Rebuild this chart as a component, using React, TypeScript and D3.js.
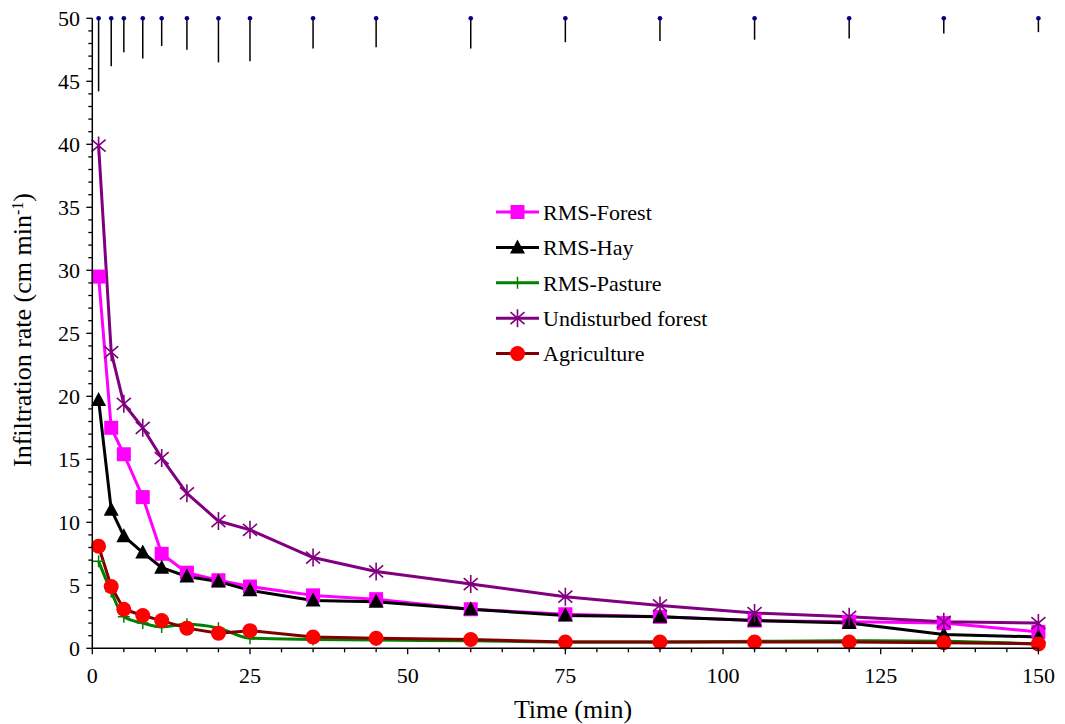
import React from 'react';
import * as d3 from 'd3';

// time of each reading (min)
const times = [1, 3, 5, 8, 11, 15, 20, 25, 35, 45, 60, 75, 90, 105, 120, 135, 150];

const rmsForest = [29.5, 17.5, 15.4, 12.0, 7.5, 6.0, 5.4, 4.9, 4.2, 3.9, 3.1, 2.7, 2.5, 2.2, 2.1, 2.0, 1.3];
const rmsHay = [19.7, 11.0, 8.9, 7.6, 6.4, 5.7, 5.3, 4.6, 3.8, 3.7, 3.1, 2.6, 2.5, 2.2, 2.0, 1.1, 0.9];
const rmsPasture = [6.9, 4.5, 2.5, 2.0, 1.7, 1.9, 1.6, 0.8, 0.7, 0.65, 0.6, 0.5, 0.5, 0.55, 0.6, 0.55, 0.35];
const undisturbed = [39.9, 23.5, 19.4, 17.5, 15.1, 12.3, 10.1, 9.4, 7.2, 6.1, 5.1, 4.1, 3.4, 2.8, 2.5, 2.1, 2.0];
const agriculture = [8.1, 4.9, 3.1, 2.6, 2.2, 1.6, 1.2, 1.4, 0.9, 0.8, 0.7, 0.5, 0.5, 0.5, 0.5, 0.45, 0.35];

// bars hanging from the top of the plot (lower end value)
const topBarLow = [44.2, 46.2, 47.3, 46.8, 47.8, 47.5, 46.5, 46.6, 47.6, 47.7, 47.6, 48.1, 48.2, 48.3, 48.4, 48.8, 48.9];

const xTicks = [0, 25, 50, 75, 100, 125, 150];
const yTicks = [0, 5, 10, 15, 20, 25, 30, 35, 40, 45, 50];

type Marker = 'square' | 'triangle' | 'plus' | 'star' | 'circle';

const series: { name: string; values: number[]; line: string; fill: string; marker: Marker; smooth?: boolean }[] = [
  { name: 'RMS-Forest', values: rmsForest, line: '#ff00ff', fill: '#ff00ff', marker: 'square' },
  { name: 'RMS-Hay', values: rmsHay, line: '#000000', fill: '#000000', marker: 'triangle' },
  { name: 'RMS-Pasture', values: rmsPasture, line: '#008000', fill: '#008000', marker: 'plus', smooth: true },
  { name: 'Undisturbed forest', values: undisturbed, line: '#800080', fill: '#800080', marker: 'star' },
  { name: 'Agriculture', values: agriculture, line: '#800000', fill: '#ff0000', marker: 'circle' },
];

const FONT = "'Liberation Serif', 'Times New Roman', serif";
const txt = { fontFamily: FONT };

const MarkerShape = ({ type, x, y, color }: { type: Marker; x: number; y: number; color: string }) => {
  if (type === 'square') return <rect x={x - 7} y={y - 7} width={14} height={14} fill={color} />;
  if (type === 'triangle')
    return <path d={`M${x},${y - 8}L${x + 7.5},${y + 6}L${x - 7.5},${y + 6}Z`} fill={color} />;
  if (type === 'circle') return <circle cx={x} cy={y} r={7.5} fill={color} />;
  if (type === 'plus')
    return (
      <path d={`M${x - 6},${y}H${x + 6}M${x},${y - 6}V${y + 6}`} stroke={color} strokeWidth={1.5} />
    );
  return (
    <path
      d={`M${x},${y - 9}V${y + 9}M${x - 7},${y - 6}L${x + 7},${y + 6}M${x - 7},${y + 6}L${x + 7},${y - 6}`}
      stroke={color}
      strokeWidth={1.6}
    />
  );
};

export default function App() {
  const width = 1065;
  const height = 724;
  const left = 92.3, right = 1038.4, top = 18.3, bottom = 648.3;

  const x = d3.scaleLinear().domain([0, 150]).range([left, right]);
  const y = d3.scaleLinear().domain([0, 50]).range([bottom, top]);

  const xMinor = d3.range(0, 151, 5);
  const yMinor = d3.range(0, 51, 1);

  const lineGen = d3.line<number>().x((_, i) => x(times[i])).y(d => y(d));
  const smoothGen = d3.line<number>().x((_, i) => x(times[i])).y(d => y(d)).curve(d3.curveMonotoneX);

  const legendX = 496;
  const legendY0 = 212;
  const legendStep = 35.4;

  return (
    <svg width={width} height={height} style={{ position: 'absolute', left: 0, top: 0, background: '#fff' }}>
      {/* hanging bars at top */}
      {times.map((t, i) => (
        <g key={'bar' + i}>
          <line x1={x(t)} x2={x(t)} y1={y(50)} y2={y(topBarLow[i])} stroke="#000" strokeWidth={1.5} />
          <circle cx={x(t)} cy={y(50)} r={2.3} fill="#000080" />
        </g>
      ))}

      {/* series lines */}
      {series.map(s => (
        <path
          key={s.name + 'line'}
          d={(s.smooth ? smoothGen : lineGen)(s.values) || ''}
          fill="none"
          stroke={s.line}
          strokeWidth={3}
          strokeLinejoin="round"
        />
      ))}
      {series.map(s => (
        <g key={s.name + 'pts'}>
          {s.values.map((v, i) => (
            <MarkerShape key={i} type={s.marker} x={x(times[i])} y={y(v)} color={s.fill} />
          ))}
        </g>
      ))}

      {/* axes */}
      <line x1={left} x2={left} y1={top} y2={bottom} stroke="#000" strokeWidth={1.5} />
      <line x1={left} x2={right} y1={bottom} y2={bottom} stroke="#000" strokeWidth={1.5} />
      {yMinor.map(v => (
        <line key={'ym' + v} x1={left - (v % 5 === 0 ? 6 : 4)} x2={left} y1={y(v)} y2={y(v)} stroke="#000" strokeWidth={1.3} />
      ))}
      {xMinor.map(v => (
        <line key={'xm' + v} x1={x(v)} x2={x(v)} y1={bottom} y2={bottom + (v % 25 === 0 ? 6 : 4)} stroke="#000" strokeWidth={1.3} />
      ))}
      {yTicks.map(v => (
        <text key={'yt' + v} x={80} y={y(v)} dy="0.35em" textAnchor="end" fontSize={22} style={txt}>
          {v}
        </text>
      ))}
      {xTicks.map(v => (
        <text key={'xt' + v} x={x(v)} y={683} textAnchor="middle" fontSize={22} style={txt}>
          {v}
        </text>
      ))}

      <text x={573} y={718} textAnchor="middle" fontSize={26} style={txt}>
        Time (min)
      </text>
      <text transform={`translate(31,330) rotate(-90)`} textAnchor="middle" fontSize={26} style={txt}>
        Infiltration rate (cm min
        <tspan baselineShift="super" fontSize={16}>-1</tspan>)
      </text>

      {/* legend */}
      {series.map((s, i) => {
        const ly = legendY0 + i * legendStep;
        return (
          <g key={s.name + 'leg'}>
            <line x1={legendX} x2={legendX + 43} y1={ly} y2={ly} stroke={s.line} strokeWidth={3} />
            <MarkerShape type={s.marker} x={legendX + 21.5} y={ly} color={s.fill} />
            <text x={legendX + 47} y={ly} dy="0.35em" fontSize={22} style={txt}>
              {s.name}
            </text>
          </g>
        );
      })}
    </svg>
  );
}
